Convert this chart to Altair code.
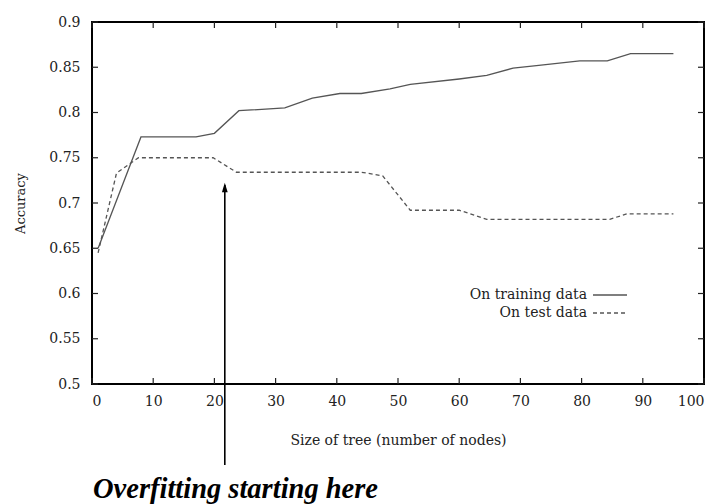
import altair as alt
import pandas as pd

# Data
train_x = [1, 8, 17, 20, 24, 31.5, 36, 40.5, 44, 48.7, 52, 60, 64.5, 68.8, 73, 79.7, 84.2, 88, 95]
train_y = [0.65, 0.773, 0.773, 0.777, 0.802, 0.805, 0.816, 0.821, 0.821, 0.826, 0.831, 0.837, 0.841, 0.849, 0.852, 0.857, 0.857, 0.865, 0.865]
test_x = [1, 4, 7.6, 19.8, 23.6, 44, 47.5, 52, 60, 64.5, 84.6, 87.4, 95]
test_y = [0.645, 0.733, 0.75, 0.75, 0.734, 0.734, 0.73, 0.692, 0.692, 0.682, 0.682, 0.688, 0.688]

x_ticks = [0, 10, 20, 30, 40, 50, 60, 70, 80, 90, 100]
y_ticks = [0.5, 0.55, 0.6, 0.65, 0.7, 0.75, 0.8, 0.85, 0.9]
x_range = [0, 100]
y_range = [0.5, 0.9]

legend_labels = ["On training data", "On test data"]
arrow_x = [21.7]
arrow_top = [0.72]
arrow_head = [0.7166]
annotation = ["Overfitting starting here"]

W, H = 612, 362
FONT = "DejaVu Serif"
NOTE_FONT = "Liberation Serif"
INK = "#222222"
LINE = "#555555"

train_df = pd.DataFrame({"x": train_x, "y": train_y})
test_df = pd.DataFrame({"x": test_x, "y": test_y})
xt_df = pd.DataFrame({"t": x_ticks})
yt_df = pd.DataFrame({"t": y_ticks})
box_df = pd.DataFrame({"x0": [x_range[0]], "x1": [x_range[1]], "y0": [y_range[0]], "y1": [y_range[1]]})
one = pd.DataFrame({"k": [0]})

xs = alt.Scale(domain=x_range, nice=False)
ys = alt.Scale(domain=y_range, nice=False)

x_axis = alt.Axis(values=x_ticks, tickSize=0, domain=False, grid=False,
                  labelFont=FONT, labelFontSize=14, labelColor=INK, labelPadding=10,
                  title="Size of tree (number of nodes)", titleFont=FONT, titleFontSize=14,
                  titleFontWeight="normal", titleColor=INK, titleX=W / 2, titleY=56,
                  titleAlign="center", titleBaseline="middle")
y_axis = alt.Axis(values=y_ticks, tickSize=0, domain=False, grid=False, format=".2~f",
                  labelFont=FONT, labelFontSize=14, labelColor=INK, labelPadding=12,
                  title="Accuracy", titleFont=FONT, titleFontSize=13, titleFontWeight="normal",
                  titleColor=INK, titleX=-72, titleY=H / 2, titleAngle=-90,
                  titleAlign="center", titleBaseline="middle")

base_train = alt.Chart(train_df).mark_line(color=LINE, strokeWidth=1.3).encode(
    x=alt.X("x:Q", scale=xs, axis=x_axis),
    y=alt.Y("y:Q", scale=ys, axis=y_axis),
)
test_line = alt.Chart(test_df).mark_line(color=LINE, strokeWidth=1.3, strokeDash=[4, 3]).encode(
    x=alt.X("x:Q", scale=xs), y=alt.Y("y:Q", scale=ys)
)

# plot frame drawn through the scales
frame = alt.Chart(box_df).mark_rect(
    fillOpacity=0, stroke="black", strokeWidth=2, strokeOpacity=1, clip=False
).encode(
    x=alt.X("x0:Q", scale=xs), x2="x1:Q",
    y=alt.Y("y0:Q", scale=ys), y2="y1:Q",
)

# inward ticks on all four sides
tick_b = alt.Chart(xt_df).mark_rule(color=INK, strokeWidth=1.2).encode(
    x=alt.X("t:Q", scale=xs), y=alt.value(H), y2=alt.value(H - 6))
tick_t = alt.Chart(xt_df).mark_rule(color=INK, strokeWidth=1.2).encode(
    x=alt.X("t:Q", scale=xs), y=alt.value(0), y2=alt.value(6))
tick_l = alt.Chart(yt_df).mark_rule(color=INK, strokeWidth=1.2).encode(
    y=alt.Y("t:Q", scale=ys), x=alt.value(0), x2=alt.value(6))
tick_r = alt.Chart(yt_df).mark_rule(color=INK, strokeWidth=1.2).encode(
    y=alt.Y("t:Q", scale=ys), x=alt.value(W), x2=alt.value(W - 6))

# legend
leg_text = alt.Chart(pd.DataFrame({"label": [legend_labels[0]]})).mark_text(
    font=FONT, fontSize=14, color=INK, align="right", baseline="middle"
).encode(text="label:N", x=alt.value(495), y=alt.value(273))
leg_text2 = alt.Chart(pd.DataFrame({"label": [legend_labels[1]]})).mark_text(
    font=FONT, fontSize=14, color=INK, align="right", baseline="middle"
).encode(text="label:N", x=alt.value(495), y=alt.value(291))
leg_line1 = alt.Chart(one).mark_rule(
    color=LINE, strokeWidth=1.3).encode(x=alt.value(501), x2=alt.value(535), y=alt.value(273))
leg_line2 = alt.Chart(one).mark_rule(
    color=LINE, strokeWidth=1.3, strokeDash=[4, 3]).encode(x=alt.value(501), x2=alt.value(535), y=alt.value(291))

# arrow annotation
arrow_df = pd.DataFrame({"x": arrow_x, "y": arrow_top, "yh": arrow_head})
arrow_line = alt.Chart(arrow_df).mark_rule(color="black", strokeWidth=1.6, clip=False).encode(
    x=alt.X("x:Q", scale=xs), y=alt.Y("y:Q", scale=ys), y2=alt.value(443))
arrow_tip = alt.Chart(arrow_df).mark_point(
    shape="M0,-1L0.55,0.8L-0.55,0.8Z", filled=True, color="black", opacity=1, size=110
).encode(x=alt.X("x:Q", scale=xs), y=alt.Y("yh:Q", scale=ys))

note = alt.Chart(pd.DataFrame({"t": annotation})).mark_text(
    font=NOTE_FONT, fontSize=28.5, fontStyle="italic", fontWeight="bold", color="black",
    align="left", baseline="middle"
).encode(text="t:N", x=alt.value(1), y=alt.value(467))

chart = alt.layer(
    base_train, test_line, frame, tick_b, tick_t, tick_l, tick_r,
    leg_text, leg_text2, leg_line1, leg_line2, arrow_line, arrow_tip, note
).properties(
    width=W, height=H,
    background="white",
    autosize=alt.AutoSizeParams(type="none"),
    padding={"left": 92, "top": 22, "right": 16, "bottom": 120},
).configure_view(stroke="black", strokeWidth=1.5)

chart.save("out.html", embed_options={"renderer": "svg", "actions": False})
